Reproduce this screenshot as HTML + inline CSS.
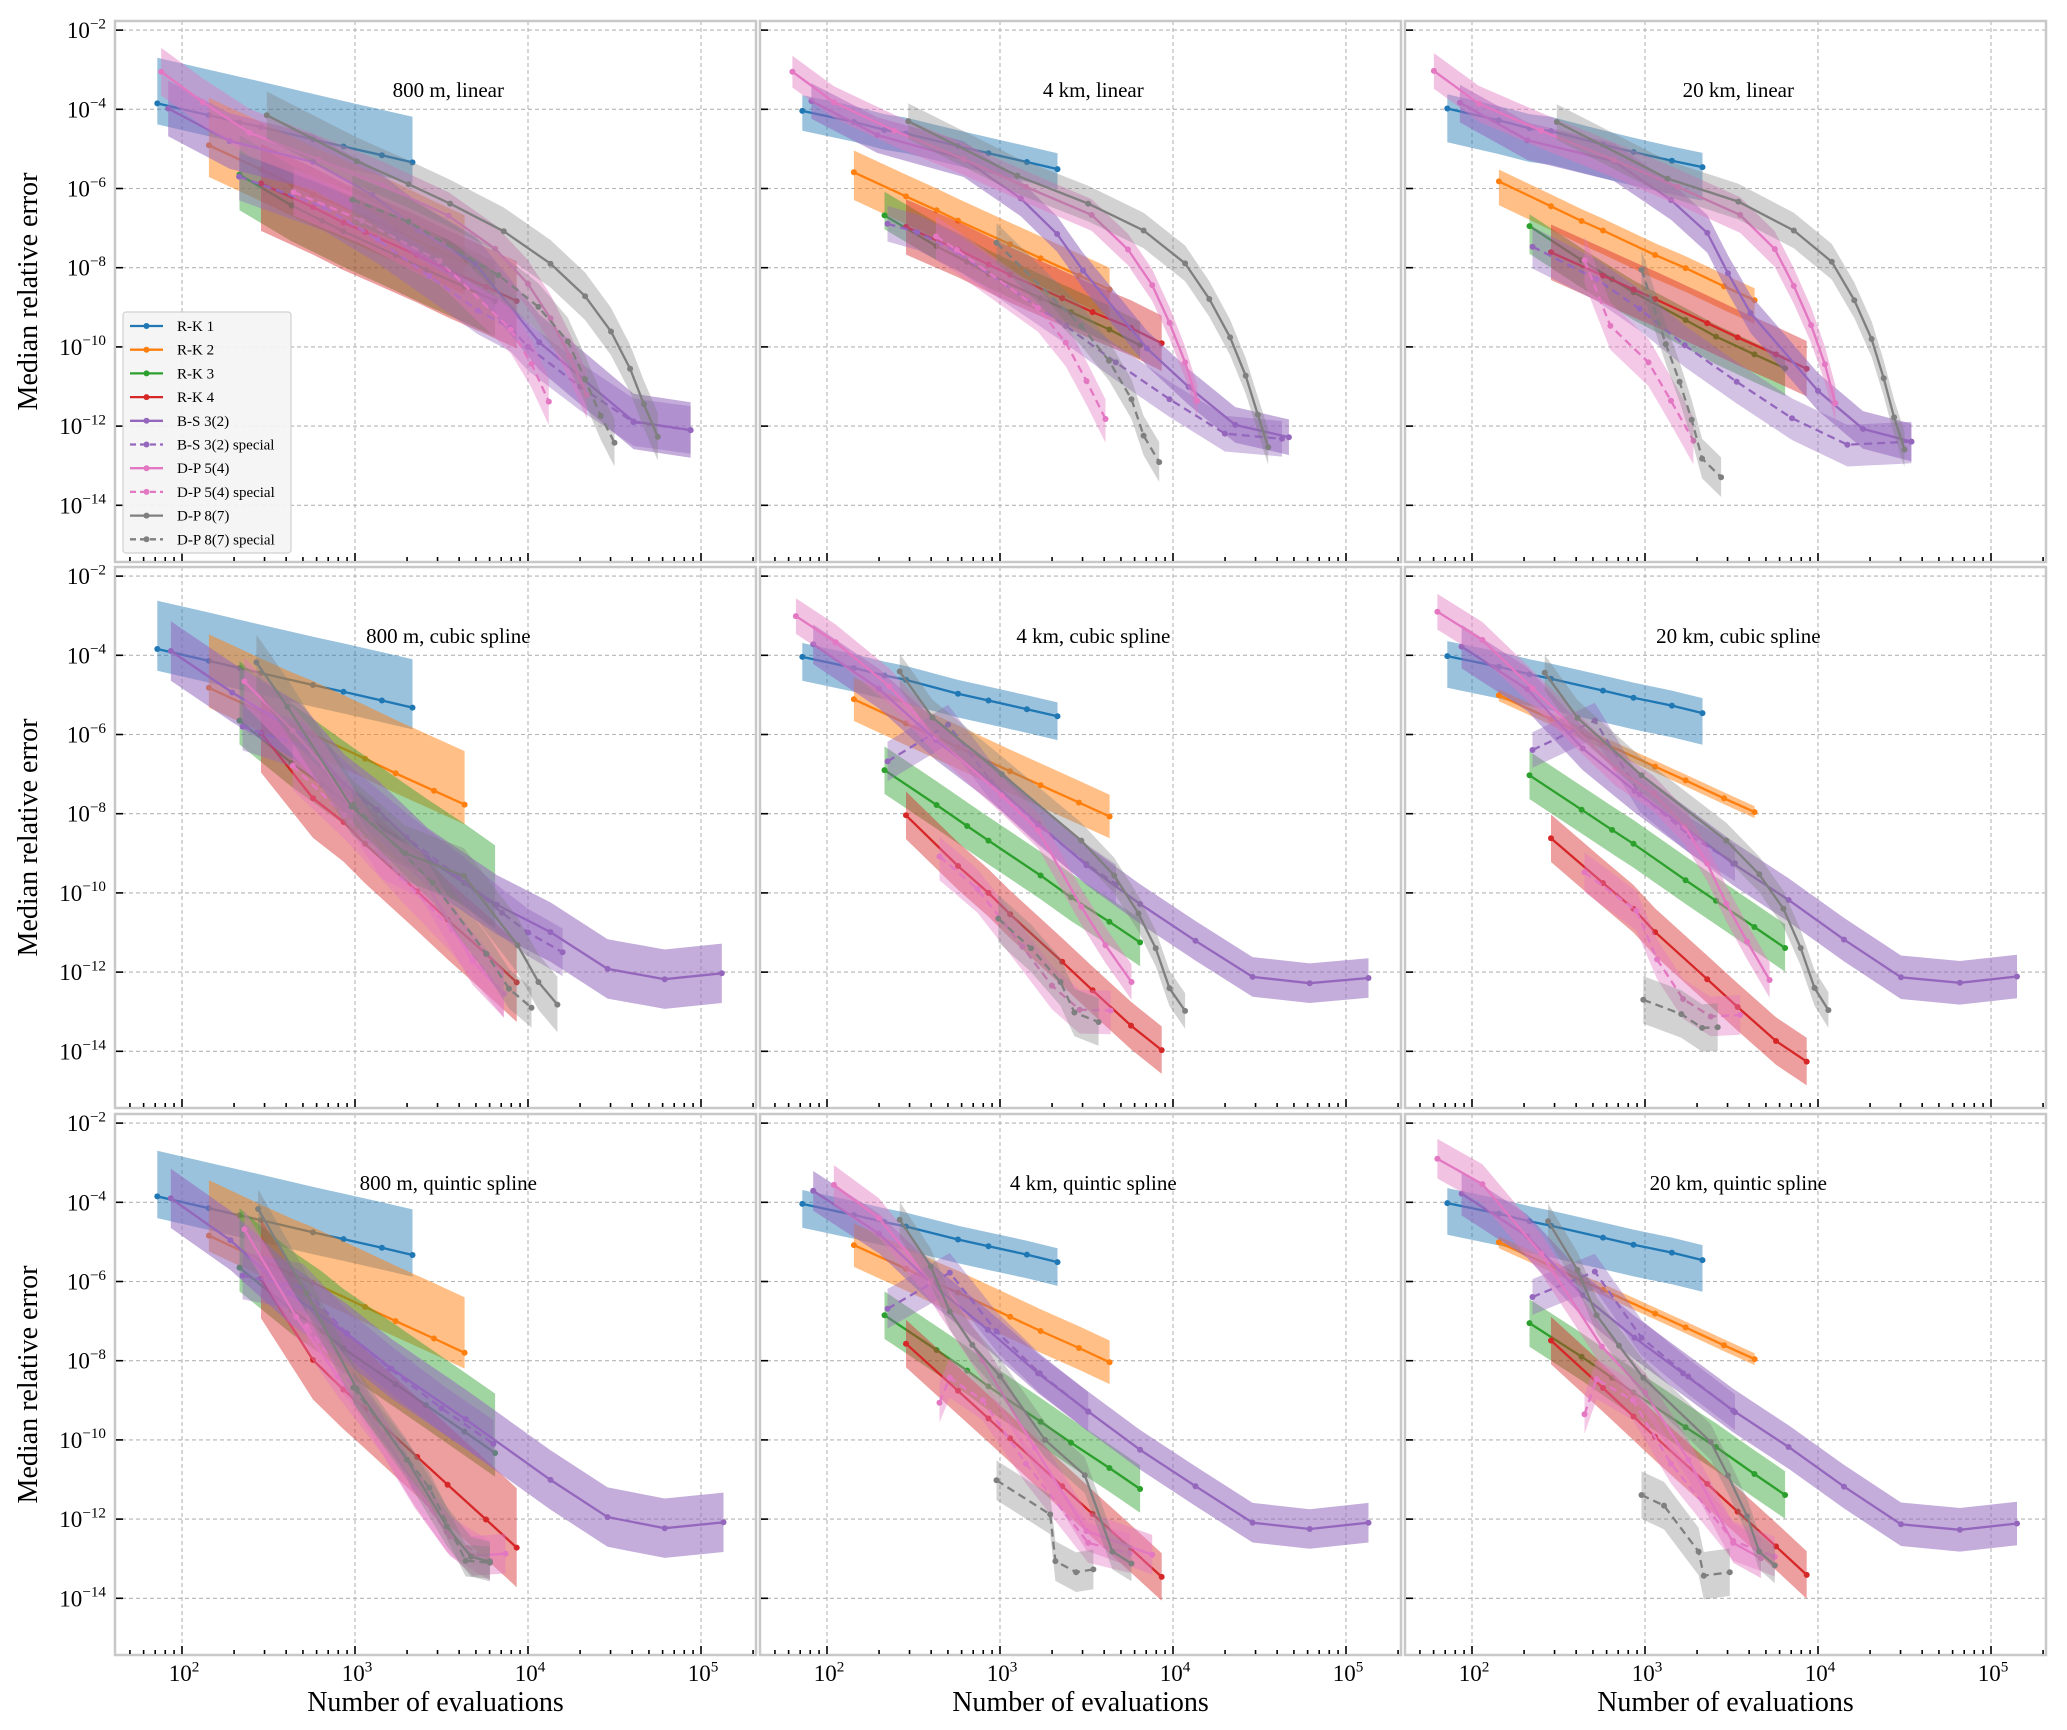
<!DOCTYPE html>
<html><head><meta charset="utf-8"><title>Median relative error vs number of evaluations</title>
<style>
html,body{margin:0;padding:0;background:#fff;}
svg{display:block;font-family:"Liberation Serif","Times New Roman",serif;}
svg text{font-family:"Liberation Serif","Times New Roman",serif;}
</style></head>
<body>
<svg id="fig" width="2067" height="1730" viewBox="0 0 2067 1730" xmlns="http://www.w3.org/2000/svg" font-family="Liberation Serif, serif"></svg>
<script>
// ---------------- DATA ----------------
const seriesNames = ["R-K 1","R-K 2","R-K 3","R-K 4","B-S 3(2)","B-S 3(2) special","D-P 5(4)","D-P 5(4) special","D-P 8(7)","D-P 8(7) special"];
const seriesColors = ["#1f77b4","#ff7f0e","#2ca02c","#d62728","#9467bd","#9467bd","#e377c2","#e377c2","#7f7f7f","#7f7f7f"];
const seriesDashed = [false,false,false,false,false,true,false,true,false,true];
const bandOpacity = [0.45,0.5,0.45,0.45,0.55,0.4,0.45,0.4,0.35,0.35];
const panelTitles = ["800 m, linear","4 km, linear","20 km, linear","800 m, cubic spline","4 km, cubic spline","20 km, cubic spline","800 m, quintic spline","4 km, quintic spline","20 km, quintic spline"];
const xTickExps = [2,3,4,5];
const yTickExps = [-2,-4,-6,-8,-10,-12,-14];
const rk1Evals = [72,143,215,286,572,858,1430,2150];
const rk2Evals = [143,286,430,572,1144,1716,2860,4300];
const rk3Evals = [215,430,645,858,1716,2574,4290,6450];
const rk4Evals = [286,572,858,1144,2288,3432,5720,8600];

// Panel 1: 800 m, linear
const p1LogN = [null,null,null,null,
 [1.92,2.275,2.757,3.10,3.364,3.695,4.065,4.61,4.94],
 [2.33,2.82,3.13,3.43,3.71,3.90,4.0,4.30,4.61,4.94],
 [1.88,2.12,2.39,2.79,3.16,3.54,3.81,4.0,4.13,4.24,4.34],
 [2.645,3.04,3.49,3.90,4.02,4.12],
 [2.49,3.01,3.31,3.55,3.86,4.13,4.33,4.48,4.59,4.67,4.75],
 [2.985,3.31,3.83,4.06,4.23,4.33,4.42,4.50]];
const p1Err = [
 [-3.85,-4.15,-4.33,-4.45,-4.76,-4.94,-5.16,-5.34],
 [-4.91,-5.52,-5.89,-6.14,-6.71,-7.05,-7.52,-7.88],
 [-5.65,-6.43,-6.81,-7.08,-7.68,-8.05,-8.48,-8.84],
 [-5.87,-6.47,-6.86,-7.10,-7.68,-8.05,-8.48,-8.84],
 [-3.98,-4.80,-5.33,-6.16,-7.05,-7.9,-9.88,-11.88,-12.1],
 [-5.70,-6.47,-7.29,-8.21,-9.08,-9.52,-10.0,-11.0,-11.9,-12.1],
 [-3.05,-3.82,-4.59,-5.27,-5.92,-6.69,-7.52,-8.41,-9.28,-10.24,-11.21],
 [-6.09,-6.81,-7.83,-9.56,-10.43,-11.38],
 [-4.15,-5.31,-5.89,-6.38,-7.08,-7.90,-8.72,-9.61,-10.55,-11.45,-12.27],
 [-6.28,-6.84,-8.19,-8.99,-9.86,-10.82,-11.74,-12.42]];
const p1Lo = [0.53,0.8,0.9,1.2,0.7,0.6,0.6,0.6,0.6,0.6];
const p1Hi = [1.15,1.2,1.0,1.0,0.7,0.6,0.6,0.6,0.6,0.6];

// Panel 2: 4 km, linear
const p2LogN = [null,null,null,null,
 [1.91,2.29,2.79,3.12,3.33,3.48,3.85,4.09,4.36,4.67],
 [2.35,2.52,2.75,3.38,3.67,3.98,4.30,4.63],
 [1.80,2.04,2.39,2.79,3.15,3.53,3.74,3.88,3.98,4.07,4.14],
 [2.63,2.75,3.22,3.38,3.50,3.61],
 [2.47,3.10,3.51,3.83,4.07,4.21,4.33,4.42,4.49,4.55],
 [2.98,3.47,3.63,3.76,3.83,3.92]];
const p2Err = [
 [-4.04,-4.32,-4.52,-4.61,-4.93,-5.11,-5.33,-5.51],
 [-5.59,-6.20,-6.55,-6.81,-7.41,-7.76,-8.20,-8.55],
 [-6.68,-7.46,-7.85,-8.16,-8.77,-9.12,-9.56,-9.96],
 [-6.97,-7.54,-7.92,-8.18,-8.77,-9.12,-9.52,-9.91],
 [-3.79,-4.65,-5.26,-6.25,-7.15,-8.07,-10.04,-11.01,-11.97,-12.28],
 [-6.89,-7.10,-7.6,-9.47,-10.39,-11.32,-12.19,-12.32],
 [-3.05,-3.82,-4.54,-5.26,-5.96,-6.67,-7.54,-8.44,-9.39,-10.39,-11.36],
 [-7.21,-7.55,-9.02,-9.89,-10.86,-11.82],
 [-4.30,-5.68,-6.38,-7.06,-7.89,-8.79,-9.76,-10.73,-11.71,-12.53],
 [-7.37,-9.47,-10.35,-11.32,-12.24,-12.91]];
const p2Lo = [0.5,0.7,0.35,0.7,0.45,0.45,0.4,0.6,0.45,0.5];
const p2Hi = [0.4,0.55,0.6,0.7,0.45,0.45,0.4,0.5,0.45,0.5];

// Panel 3: 20 km, linear
const p3LogN = [null,null,null,null,
 [1.93,2.32,2.82,3.15,3.36,3.48,3.61,4.0,4.26,4.54],
 [2.35,2.72,2.97,3.23,3.53,3.85,4.17,4.54],
 [1.78,2.04,2.40,2.82,3.19,3.55,3.75,3.86,3.96,4.04,4.10],
 [2.65,2.80,3.02,3.15,3.28],
 [2.49,3.13,3.54,3.86,4.08,4.21,4.31,4.38,4.44,4.50],
 [2.98,3.12,3.20,3.27,3.33,3.44]];
const p3Err = [
 [-3.98,-4.28,-4.48,-4.55,-4.89,-5.08,-5.30,-5.46],
 [-5.82,-6.45,-6.82,-7.06,-7.68,-8.01,-8.47,-8.82],
 [-6.95,-7.81,-8.29,-8.62,-9.32,-9.74,-10.19,-10.54],
 [-7.61,-8.20,-8.55,-8.79,-9.40,-9.76,-10.19,-10.55],
 [-3.83,-4.78,-5.31,-6.29,-7.12,-8.14,-9.14,-11.11,-12.07,-12.39],
 [-7.47,-8.29,-9.04,-9.96,-10.88,-11.80,-12.47,-12.39],
 [-3.03,-3.86,-4.54,-5.28,-5.96,-6.67,-7.53,-8.46,-9.45,-10.44,-11.42],
 [-7.81,-9.47,-10.39,-11.36,-12.37],
 [-4.32,-5.75,-6.33,-7.06,-7.85,-8.82,-9.80,-10.79,-11.78,-12.59],
 [-8.05,-9.93,-10.88,-11.84,-12.82,-13.29]];
const p3Lo = [0.85,0.6,0.7,0.7,0.5,0.55,0.45,0.6,0.45,0.5];
const p3Hi = [0.36,0.3,0.3,0.7,0.45,0.5,0.45,0.6,0.45,0.5];

// Panel 4: 800 m, cubic spline
const p4LogN = [null,null,null,null,
 [1.936,2.29,2.69,2.94,3.13,3.42,3.82,4.13,4.46,4.79,5.12],
 [2.35,2.7,3.0,3.3,3.6,3.85,4.0,4.2],
 [2.36,2.64,2.82,3.155,3.38,3.68,3.86],
 [2.64,2.94,3.27,3.56,3.86],
 [2.43,2.61,2.98,3.29,3.63,3.94,4.06,4.17],
 [2.99,3.45,3.76,3.89,4.02]];
const p4Err = [
 [-3.84,-4.14,-4.32,-4.45,-4.75,-4.92,-5.14,-5.32],
 [-4.82,-5.43,-5.78,-6.0,-6.61,-6.98,-7.42,-7.77],
 [-5.65,-6.72,-7.27,-7.66,-8.58,-9.11,-9.75,-10.30],
 [-5.96,-7.61,-8.21,-8.76,-9.96,-10.68,-11.54,-12.26],
 [-3.89,-4.94,-5.99,-7.26,-7.90,-9.11,-10.30,-10.99,-11.92,-12.18,-12.03],
 [-5.8,-6.3,-7.5,-8.6,-9.6,-10.5,-11.0,-11.5],
 [-4.66,-5.9,-6.81,-9.04,-9.53,-11.72,-12.55],
 [-6.79,-8.04,-9.61,-10.93,-12.55],
 [-4.18,-5.3,-7.82,-9.0,-9.57,-11.32,-12.25,-12.82],
 [-7.77,-9.75,-11.54,-12.42,-12.90]];
const p4Lo = [0.55,0.5,0.6,1.0,0.75,0.6,0.6,0.6,0.7,0.5];
const p4Hi = [1.22,1.35,1.5,1.0,0.75,0.6,0.6,0.6,0.7,0.5];

// Panel 5: 4 km, cubic spline
const p5LogN = [null,null,null,null,
 [1.92,2.30,2.63,2.95,3.22,3.50,3.81,4.13,4.46,4.79,5.13],
 [2.35,2.70,2.95,3.22,3.50,3.67],
 [1.82,2.05,2.36,2.63,3.01,3.22,3.47,3.61,3.76],
 [2.65,2.87,3.13,3.30,3.46,3.64],
 [2.42,2.61,3.01,3.47,3.66,3.80,3.90,3.98,4.07],
 [2.99,3.18,3.35,3.43,3.57]];
const p5Err = [
 [-4.04,-4.32,-4.51,-4.62,-4.97,-5.14,-5.36,-5.54],
 [-5.11,-5.72,-6.07,-6.32,-6.93,-7.28,-7.72,-8.07],
 [-6.90,-7.78,-8.31,-8.68,-9.56,-10.11,-10.73,-11.25],
 [-8.04,-9.32,-10.0,-10.54,-11.74,-12.46,-13.35,-13.97],
 [-3.72,-4.84,-6.15,-7.21,-8.25,-9.30,-10.28,-11.21,-12.12,-12.28,-12.15],
 [-6.68,-5.75,-7.19,-8.29,-9.27,-9.78],
 [-3.01,-3.67,-4.78,-6.05,-7.54,-8.42,-10.35,-11.32,-12.25],
 [-9.08,-9.9,-11.36,-12.34,-12.95,-12.97],
 [-4.41,-5.57,-7.0,-8.68,-9.56,-10.52,-11.4,-12.41,-12.98],
 [-10.65,-11.40,-12.25,-13.02,-13.26]];
const p5Lo = [0.6,0.55,0.6,0.6,0.5,0.5,0.45,0.6,0.45,0.6];
const p5Hi = [0.35,0.55,0.6,0.6,0.5,0.5,0.45,0.5,0.45,0.6];

// Panel 6: 20 km, cubic spline
const p6LogN = [null,null,null,null,
 [1.94,2.32,2.64,2.94,3.22,3.51,3.83,4.15,4.48,4.82,5.15],
 [2.35,2.71,2.97,3.26,3.52],
 [1.80,2.06,2.35,2.83,3.05,3.23,3.36,3.47,3.59,3.72],
 [2.65,2.95,3.07,3.22,3.38,3.55],
 [2.42,2.61,2.98,3.47,3.66,3.80,3.90,3.98,4.06],
 [2.99,3.21,3.33,3.42]];
const p6Err = [
 [-4.02,-4.29,-4.48,-4.59,-4.89,-5.07,-5.27,-5.46],
 [-5.01,-5.61,-5.98,-6.21,-6.81,-7.16,-7.61,-7.96],
 [-7.03,-7.90,-8.41,-8.76,-9.68,-10.20,-10.86,-11.39],
 [-8.62,-9.75,-10.4,-10.99,-12.18,-12.88,-13.74,-14.26],
 [-3.78,-4.86,-6.35,-7.42,-8.32,-9.26,-10.18,-11.18,-12.13,-12.27,-12.11],
 [-6.39,-5.65,-7.51,-8.56,-9.25],
 [-2.90,-3.61,-4.83,-6.85,-7.49,-8.32,-9.26,-10.27,-11.23,-12.20],
 [-9.48,-10.45,-11.68,-12.68,-13.12,-13.08],
 [-4.44,-5.58,-7.03,-8.68,-9.53,-10.40,-11.39,-12.40,-12.96],
 [-12.70,-13.06,-13.41,-13.39]];
const p6Lo = [0.8,0.15,0.6,0.6,0.55,0.45,0.45,0.5,0.45,0.6];
const p6Hi = [0.38,0.15,0.6,0.6,0.55,0.45,0.45,0.5,0.45,0.6];

// Panel 7: 800 m, quintic spline
const p7LogN = [null,null,null,null,
 [1.935,2.28,2.62,2.955,3.21,3.64,4.13,4.46,4.79,5.13],
 [2.35,2.7,2.95,3.2,3.5,3.8],
 [2.36,2.66,2.9,3.16,3.35,3.53,3.68,3.87],
 [2.72,3.01,3.34,3.55,3.78],
 [2.44,2.72,3.01,3.3,3.53,3.67,3.78],
 [2.99,3.43,3.64,3.78]];
const p7Err = [
 [-3.85,-4.15,-4.33,-4.45,-4.76,-4.93,-5.15,-5.33],
 [-4.84,-5.46,-5.81,-6.03,-6.64,-7.0,-7.44,-7.80],
 [-5.65,-6.72,-7.25,-7.69,-8.59,-9.12,-9.79,-10.33],
 [-5.93,-7.98,-8.73,-9.22,-10.43,-11.13,-12.01,-12.72],
 [-3.90,-4.96,-6.30,-7.32,-8.2,-9.48,-11.01,-11.95,-12.23,-12.08],
 [-5.85,-6.15,-7.3,-8.2,-9.2,-10.1],
 [-4.68,-6.89,-8.4,-9.87,-11.2,-12.32,-12.93,-12.87],
 [-7.13,-8.77,-11.19,-12.44,-13.05],
 [-4.17,-6.3,-8.71,-10.5,-12.18,-12.95,-13.07],
 [-8.68,-11.21,-13.05,-13.1]];
const p7Lo = [0.55,0.4,0.6,1.0,0.75,0.6,0.5,0.5,0.5,0.4];
const p7Hi = [1.15,1.4,1.5,1.5,0.75,0.6,0.5,0.5,0.5,0.4];

// Panel 8: 4 km, quintic spline
const p8LogN = [null,null,null,null,
 [1.92,2.30,2.63,2.93,3.22,3.51,3.81,4.13,4.46,4.79,5.13],
 [2.35,2.71,2.98,3.23,3.51],
 [2.04,2.3,2.6,2.9,3.2,3.5,3.88],
 [2.65,2.71,2.9,3.15,3.51,3.75],
 [2.42,2.60,2.71,2.84,3.0,3.26,3.49,3.65,3.76],
 [2.98,3.29,3.32,3.44,3.54]];
const p8Err = [
 [-4.04,-4.32,-4.50,-4.61,-4.94,-5.11,-5.32,-5.51],
 [-5.08,-5.68,-6.05,-6.28,-6.89,-7.25,-7.68,-8.04],
 [-6.85,-7.73,-8.25,-8.65,-9.54,-10.07,-10.71,-11.24],
 [-7.57,-8.76,-9.46,-9.96,-11.17,-11.87,-12.75,-13.46],
 [-3.71,-4.79,-6.15,-7.22,-8.32,-9.28,-10.25,-11.17,-12.09,-12.25,-12.09],
 [-6.69,-5.78,-7.26,-8.32,-9.29],
 [-3.56,-4.4,-6.0,-8.0,-10.2,-12.3,-12.9],
 [-9.06,-8.43,-9.0,-10.6,-12.6,-12.86],
 [-4.44,-5.62,-6.76,-7.60,-8.39,-10.0,-10.89,-12.82,-13.12],
 [-11.02,-11.88,-13.06,-13.34,-13.27]];
const p8Lo = [0.6,0.55,0.6,0.6,0.5,0.5,0.5,0.5,0.45,0.5];
const p8Hi = [0.35,0.55,0.6,0.6,0.5,0.5,0.5,0.5,0.45,0.5];

// Panel 9: 20 km, quintic spline
const p9LogN = [null,null,null,null,
 [1.94,2.32,2.64,2.94,3.22,3.51,3.83,4.15,4.48,4.82,5.15],
 [2.35,2.71,2.98,3.25,3.52],
 [1.80,2.06,2.4,2.75,3.0,3.25,3.51,3.67],
 [2.65,2.72,2.93,3.15,3.51,3.75],
 [2.44,2.61,2.72,2.85,2.99,3.38,3.48,3.59,3.66,3.75],
 [2.98,3.11,3.31,3.34,3.49]];
const p9Err = [
 [-4.02,-4.29,-4.48,-4.59,-4.89,-5.07,-5.27,-5.46],
 [-5.01,-5.61,-5.98,-6.21,-6.81,-7.16,-7.61,-7.96],
 [-7.05,-7.90,-8.43,-8.8,-9.68,-10.18,-10.86,-11.39],
 [-7.49,-8.69,-9.41,-9.92,-11.11,-11.81,-12.69,-13.41],
 [-3.78,-4.86,-6.35,-7.42,-8.32,-9.26,-10.18,-11.18,-12.13,-12.27,-12.11],
 [-6.39,-5.75,-7.42,-8.4,-9.3],
 [-2.90,-3.54,-5.3,-7.64,-8.8,-10.5,-12.6,-12.99],
 [-9.35,-8.47,-9.0,-10.6,-12.55,-12.95],
 [-4.48,-5.71,-6.85,-7.62,-8.43,-10.05,-10.9,-11.93,-12.82,-13.17],
 [-11.39,-11.66,-12.82,-13.43,-13.34]];
const p9Lo = [0.8,0.15,0.6,0.6,0.55,0.45,0.5,0.5,0.45,0.6];
const p9Hi = [0.38,0.15,0.6,0.6,0.55,0.45,0.5,0.5,0.45,0.6];

const panelLogN = [p1LogN,p2LogN,p3LogN,p4LogN,p5LogN,p6LogN,p7LogN,p8LogN,p9LogN];
const panelErr = [p1Err,p2Err,p3Err,p4Err,p5Err,p6Err,p7Err,p8Err,p9Err];
const panelLo = [p1Lo,p2Lo,p3Lo,p4Lo,p5Lo,p6Lo,p7Lo,p8Lo,p9Lo];
const panelHi = [p1Hi,p2Hi,p3Hi,p4Hi,p5Hi,p6Hi,p7Hi,p8Hi,p9Hi];
const rkEvals = [rk1Evals,rk2Evals,rk3Evals,rk4Evals];

// ---------------- LAYOUT ----------------
const NS = "http://www.w3.org/2000/svg";
const FONT = "Liberation Serif, Times New Roman, serif";
const svg = document.getElementById("fig");
const colLeft = [115,760,1405], rowTop = [21,567,1114];
const PW = 641, PH = 541;
const X_LOG_MIN = 2 - 67/173, X_PX_PER_DEC = 173;
const Y_LOG_MAX = -1.77, Y_PX_PER_DEC = 39.6;
function xScale(col, logn){ return colLeft[col] + (logn - X_LOG_MIN)*X_PX_PER_DEC; }
function yScale(row, loge){ return rowTop[row] + (Y_LOG_MAX - loge)*Y_PX_PER_DEC; }
function mk(tag, attrs, parent){
  const e = document.createElementNS(NS, tag);
  for (const k in attrs) e.setAttribute(k, attrs[k]);
  if (tag === "text") e.setAttribute("font-family", FONT);
  (parent||svg).appendChild(e);
  return e;
}
const defs = mk("defs", {});
function sup(parent, x, y, exp, anchor, fs){
  const t = mk("text", {x:x, y:y, "text-anchor":anchor, "font-size":fs, fill:"#000"}, parent);
  const a = document.createElementNS(NS,"tspan"); a.textContent = "10"; t.appendChild(a);
  const b = document.createElementNS(NS,"tspan"); b.setAttribute("dy", -fs*0.42); b.setAttribute("font-size", fs*0.66);
  b.textContent = (exp<0 ? "\u2212" + (-exp) : String(exp)); t.appendChild(b);
  return t;
}

for (let p=0; p<9; p++){
  const row = Math.floor(p/3), col = p%3;
  const L = colLeft[col], T = rowTop[row];
  const g = mk("g", {});
  
  
  const cp = mk("clipPath", {id:"clip"+p}, defs);
  mk("rect", {x:L, y:T, width:PW, height:PH}, cp);
  const grid = mk("g", {stroke:"#b5b5b5", "stroke-width":1.1, "stroke-dasharray":"4,3"}, g);
  
  
  for (const e of xTickExps){ const x = xScale(col,e); mk("line",{x1:x,x2:x,y1:T,y2:T+PH},grid); }
  for (const e of yTickExps){ const y = yScale(row,e); mk("line",{x1:L,x2:L+PW,y1:y,y2:y},grid); }
  const data = mk("g", {"clip-path":"url(#clip"+p+")"}, g);
  for (let s=0; s<10; s++){
    const med = panelErr[p][s];
    const xs = s<4 ? rkEvals[s].map(Math.log10) : panelLogN[p][s];
    const color = seriesColors[s];
    const sg = mk("g", {}, data);
    
    
    const up = [], dn = [];
    for (let i=0;i<med.length;i++){
      up.push(xScale(col,xs[i]).toFixed(1)+","+yScale(row,med[i]+panelHi[p][s]).toFixed(1));
      dn.push(xScale(col,xs[i]).toFixed(1)+","+yScale(row,med[i]-panelLo[p][s]).toFixed(1));
    }
    const band = mk("polygon", {points: up.concat(dn.reverse()).join(" "), fill:color, "fill-opacity":bandOpacity[s], stroke:"none"}, sg);
    
    
    const pts = med.map((v,i)=>xScale(col,xs[i]).toFixed(1)+","+yScale(row,v).toFixed(1)).join(" ");
    const line = mk("polyline", {points:pts, fill:"none", stroke:color, "stroke-width":2.3, "stroke-dasharray": seriesDashed[s] ? "8,5" : "none"}, sg);
    
    
    for (let i=0;i<med.length;i++){
      const c = mk("circle", {cx:xScale(col,xs[i]).toFixed(1), cy:yScale(row,med[i]).toFixed(1), r:3, fill:color}, sg);
      
      
    }
  }
  const fr = mk("rect", {x:L, y:T, width:PW, height:PH, fill:"none", stroke:"#c8c8c8", "stroke-width":2.5}, g);
  
  
  const tk = mk("g", {stroke:"#000", "stroke-width":1.6}, g);
  
  
  for (const e of yTickExps){ const y = yScale(row,e); mk("line",{x1:L+1,x2:L+8,y1:y,y2:y},tk); }
  for (let d=1; d<=5; d++){
    for (let m=1; m<=9; m++){
      const lg = d + Math.log10(m);
      if (lg < X_LOG_MIN || lg > X_LOG_MIN + PW/X_PX_PER_DEC) continue;
      const x = xScale(col, lg);
      mk("line",{x1:x,x2:x,y1:T+PH-1,y2:T+PH-(m===1?9:5)},tk);
    }
  }
  const tt = mk("text", {x:L+PW*0.52, y:T+76, "text-anchor":"middle", "font-size":21, fill:"#000"}, g);
  tt.textContent = panelTitles[p];
  
  
  if (col===0){
    for (const e of yTickExps){
      const t = sup(g, 106, yScale(row,e)+8, e, "end", 23);
      
      
    }
    const yl = mk("text", {x:0, y:0, transform:"translate(37,"+(T+PH/2)+") rotate(-90)", "text-anchor":"middle", "font-size":28, fill:"#000"}, g);
    yl.textContent = "Median relative error";
    
    
  }
  if (row===2){
    for (const e of xTickExps){
      const t = sup(g, xScale(col,e)+2, 1681, e, "middle", 23);
      
      
    }
    const xl = mk("text", {x:L+PW/2, y:1711, "text-anchor":"middle", "font-size":28, fill:"#000"}, g);
    xl.textContent = "Number of evaluations";
    
    
  }
}

// ---------------- LEGEND ----------------
const lg = mk("g", {});


mk("rect", {x:123, y:312, width:168, height:241, rx:3, fill:"#f4f4f4", "fill-opacity":0.92, stroke:"#d0d0d0", "stroke-width":1.2}, lg);
for (let s=0; s<10; s++){
  const y = 326 + s*23.7;
  const e = mk("g", {}, lg);
  
  
  mk("line", {x1:130, x2:163, y1:y, y2:y, stroke:seriesColors[s], "stroke-width":2.3, "stroke-dasharray": seriesDashed[s] ? "6,4" : "none"}, e);
  mk("circle", {cx:146.5, cy:y, r:3, fill:seriesColors[s]}, e);
  const t = mk("text", {x:177, y:y+5, "font-size":15, fill:"#000"}, e);
  t.textContent = seriesNames[s];
}
</script>
</body></html>
